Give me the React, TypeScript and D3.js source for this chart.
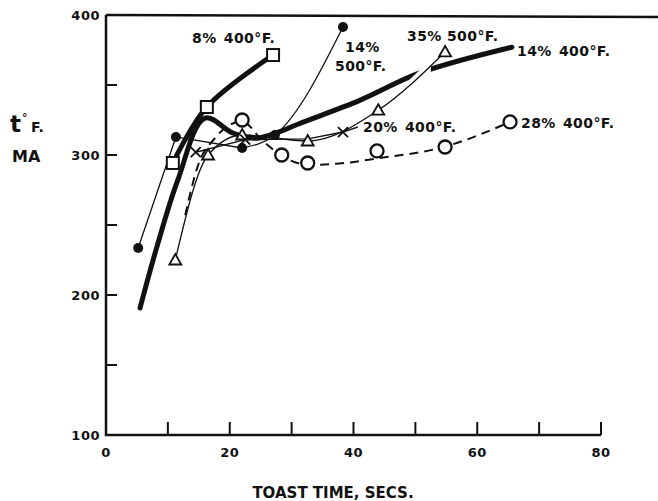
import React from 'react';
import * as d3 from 'd3';

type P = [number, number];

// Axis ticks and labels
const xTickValues = [10, 20, 30, 40, 50, 60, 70, 80];
const xTickLabels = [0, 20, 40, 60, 80];
const yTickValues = [150, 200, 250, 300, 350];
const yTickLabels = [100, 200, 300, 400];

// 8% moisture, 400°F — squares on a heavy line
const pct8at400: P[] = [[10.8, 294.3], [16.3, 334.3], [27.0, 371.4]];

// 14% moisture, 400°F — heavy curve without markers
const pct14at400: P[] = [
  [5.5, 190.7], [8.2, 234], [11.6, 282], [16.0, 326.4], [20.5, 315.7],
  [24.1, 312], [28.0, 316.5], [31.0, 322], [41.0, 339], [50.7, 358.6], [65.6, 377],
];

// 14% moisture, 500°F — filled circles
const pct14at500: P[] = [[5.2, 233.6], [11.3, 312.9], [22.0, 305], [27.3, 314.3], [38.3, 391.4]];

// 35% moisture, 500°F — open triangles
const pct35at500: P[] = [[11.2, 225], [16.5, 300], [22.0, 314.3], [32.6, 310], [44.0, 332], [54.8, 373.6]];

// 28% moisture, 400°F — open circles and the dashed curve through them
const pct28at400Points: P[] = [[22.0, 325], [28.4, 300], [32.6, 294.3], [43.8, 302.9], [54.8, 305.7], [65.3, 323.6]];
const pct28at400Curve: P[] = [
  [12.8, 257], [14.9, 292.9], [17.6, 312], [22.0, 324], [25.2, 310.7], [28.9, 298],
  [33.0, 292.9], [38.6, 294.3], [43.8, 297.5], [54.8, 306], [65.3, 323.6],
];

// 20% moisture, 400°F — crosses
const pct20at400Points: P[] = [[14.5, 302], [22.5, 311], [38.3, 316.4]];
const pct20at400Line: P[] = [[14.5, 302], [22.5, 311], [32.6, 311.5], [38.3, 316.4], [40.7, 320]];

const W = 658;
const H = 501;
const INK = '#111';
const FONT = "'DejaVu Sans', 'Liberation Sans', Arial, sans-serif";

const x = d3.scaleLinear().domain([0, 80]).range([106, 601]);
const y = d3.scaleLinear().domain([100, 400]).range([435, 15]);

const lineOf = (curve: d3.CurveFactory) =>
  d3.line<P>().x((d) => x(d[0])).y((d) => y(d[1])).curve(curve);

const smooth = lineOf(d3.curveCatmullRom.alpha(0.5));
const mono = lineOf(d3.curveMonotoneX);
const straight = lineOf(d3.curveLinear);

const Square = ({ d }: { d: P }) => (
  <rect x={x(d[0]) - 6} y={y(d[1]) - 6} width={12} height={12} fill="#fff" stroke={INK} strokeWidth={2} />
);
const Dot = ({ d }: { d: P }) => <circle cx={x(d[0])} cy={y(d[1])} r={5} fill={INK} />;
const Ring = ({ d }: { d: P }) => (
  <circle cx={x(d[0])} cy={y(d[1])} r={6.5} fill="#fff" stroke={INK} strokeWidth={2.3} />
);
const Tri = ({ d }: { d: P }) => {
  const cx = x(d[0]);
  const cy = y(d[1]);
  const pts = `${cx},${cy - 6} ${cx + 6},${cy + 4.5} ${cx - 6},${cy + 4.5}`;
  return <polygon points={pts} fill="#fff" stroke={INK} strokeWidth={1.8} />;
};
const Cross = ({ d }: { d: P }) => {
  const cx = x(d[0]);
  const cy = y(d[1]);
  const s = 5;
  return (
    <path
      d={`M${cx - s},${cy - s}L${cx + s},${cy + s}M${cx - s},${cy + s}L${cx + s},${cy - s}`}
      stroke={INK}
      strokeWidth={1.8}
    />
  );
};

const labelStyle: React.CSSProperties = {
  fontFamily: FONT,
  fontWeight: 700,
  fontSize: 14,
  letterSpacing: 0.4,
  fill: INK,
};

// the 14% 500°F line: straight runs through the cluster, then a bending rise
const pct14at500Head = pct14at500.slice(0, 3);
const pct14at500Tail = pct14at500.slice(2);

export default function App() {
  return (
    <svg
      width={W}
      height={H}
      viewBox={`0 0 ${W} ${H}`}
      style={{ position: 'absolute', left: 0, top: 0, background: '#fff' }}
    >
      <defs>
        <clipPath id="crossing">
          <rect x={x(48.5)} y={0} width={x(52.5) - x(48.5)} height={H} />
        </clipPath>
      </defs>
      <rect width={W} height={H} fill="#fff" />

      {/* frame: left axis, bottom axis, top rule */}
      <path
        d={`M${x(0)},${y(400)}L${x(0)},${y(100)}L${x(80)},${y(100)}`}
        fill="none"
        stroke={INK}
        strokeWidth={2.5}
      />
      <line x1={x(0)} y1={y(400)} x2={W} y2={y(400) + 2} stroke={INK} strokeWidth={2.5} />

      {/* ticks */}
      {xTickValues.map((v) => (
        <line key={`xt${v}`} x1={x(v)} x2={x(v)} y1={y(100)} y2={y(100) - 13} stroke={INK} strokeWidth={2} />
      ))}
      {yTickValues.map((v) => (
        <line key={`yt${v}`} x1={x(0)} x2={x(0) + 11} y1={y(v)} y2={y(v)} stroke={INK} strokeWidth={2} />
      ))}

      {/* tick labels */}
      {xTickLabels.map((v) => (
        <text
          key={`xl${v}`}
          x={x(v)}
          y={y(100) + 22}
          textAnchor="middle"
          style={{ ...labelStyle, fontSize: 13, letterSpacing: 0.5 }}
        >
          {v}
        </text>
      ))}
      {yTickLabels.map((v) => (
        <text
          key={`yl${v}`}
          x={x(0) - 6}
          y={y(v) + 5}
          textAnchor="end"
          style={{ ...labelStyle, fontSize: 13, letterSpacing: 0.5 }}
        >
          {v}
        </text>
      ))}

      {/* axis titles */}
      <text x={333} y={498} textAnchor="middle" style={{ ...labelStyle, fontSize: 15, letterSpacing: 0 }}>
        TOAST TIME, SECS.
      </text>
      <text x={10} y={132} style={{ ...labelStyle, fontSize: 23, letterSpacing: 0 }}>
        t
      </text>
      <text x={22} y={121} style={{ ...labelStyle, fontSize: 11, letterSpacing: 0 }}>
        °
      </text>
      <text x={31} y={132} style={{ ...labelStyle, fontSize: 14, letterSpacing: 0 }}>
        F.
      </text>
      <text x={12} y={162} style={{ ...labelStyle, fontSize: 16, letterSpacing: 0 }}>
        MA
      </text>

      {/* curves */}
      <path d={mono(pct28at400Curve) ?? ''} fill="none" stroke={INK} strokeWidth={2} strokeDasharray="9 6" />
      <path d={straight(pct20at400Line) ?? ''} fill="none" stroke={INK} strokeWidth={1.4} />
      <path d={straight(pct14at500Head) ?? ''} fill="none" stroke={INK} strokeWidth={1.3} />
      <path d={mono(pct14at500Tail) ?? ''} fill="none" stroke={INK} strokeWidth={1.3} />
      <path d={smooth(pct14at400) ?? ''} fill="none" stroke={INK} strokeWidth={5} strokeLinecap="round" />
      <path d={smooth(pct8at400) ?? ''} fill="none" stroke={INK} strokeWidth={5} strokeLinecap="round" />
      <path
        d={mono(pct35at500) ?? ''}
        fill="none"
        stroke="#fff"
        strokeWidth={9}
        clipPath="url(#crossing)"
      />
      <path d={mono(pct35at500) ?? ''} fill="none" stroke={INK} strokeWidth={1.3} />

      {/* markers */}
      {pct28at400Points.map((d, i) => <Ring key={`r${i}`} d={d} />)}
      {pct35at500.map((d, i) => <Tri key={`t${i}`} d={d} />)}
      {pct20at400Points.map((d, i) => <Cross key={`c${i}`} d={d} />)}
      {pct14at500.map((d, i) => <Dot key={`d${i}`} d={d} />)}
      {pct8at400.map((d, i) => <Square key={`s${i}`} d={d} />)}

      {/* series labels */}
      <text x={192} y={43} style={{ ...labelStyle, wordSpacing: 2 }}>8% 400°F.</text>
      <text x={345} y={52} style={labelStyle}>14%</text>
      <text x={335} y={71} style={labelStyle}>500°F.</text>
      <text x={407} y={41} style={labelStyle}>35% 500°F.</text>
      <text x={517} y={56} style={{ ...labelStyle, wordSpacing: 2 }}>14% 400°F.</text>
      <text x={363} y={132} style={{ ...labelStyle, wordSpacing: 2 }}>20% 400°F.</text>
      <text x={521} y={128} style={{ ...labelStyle, wordSpacing: 2 }}>28% 400°F.</text>
    </svg>
  );
}
